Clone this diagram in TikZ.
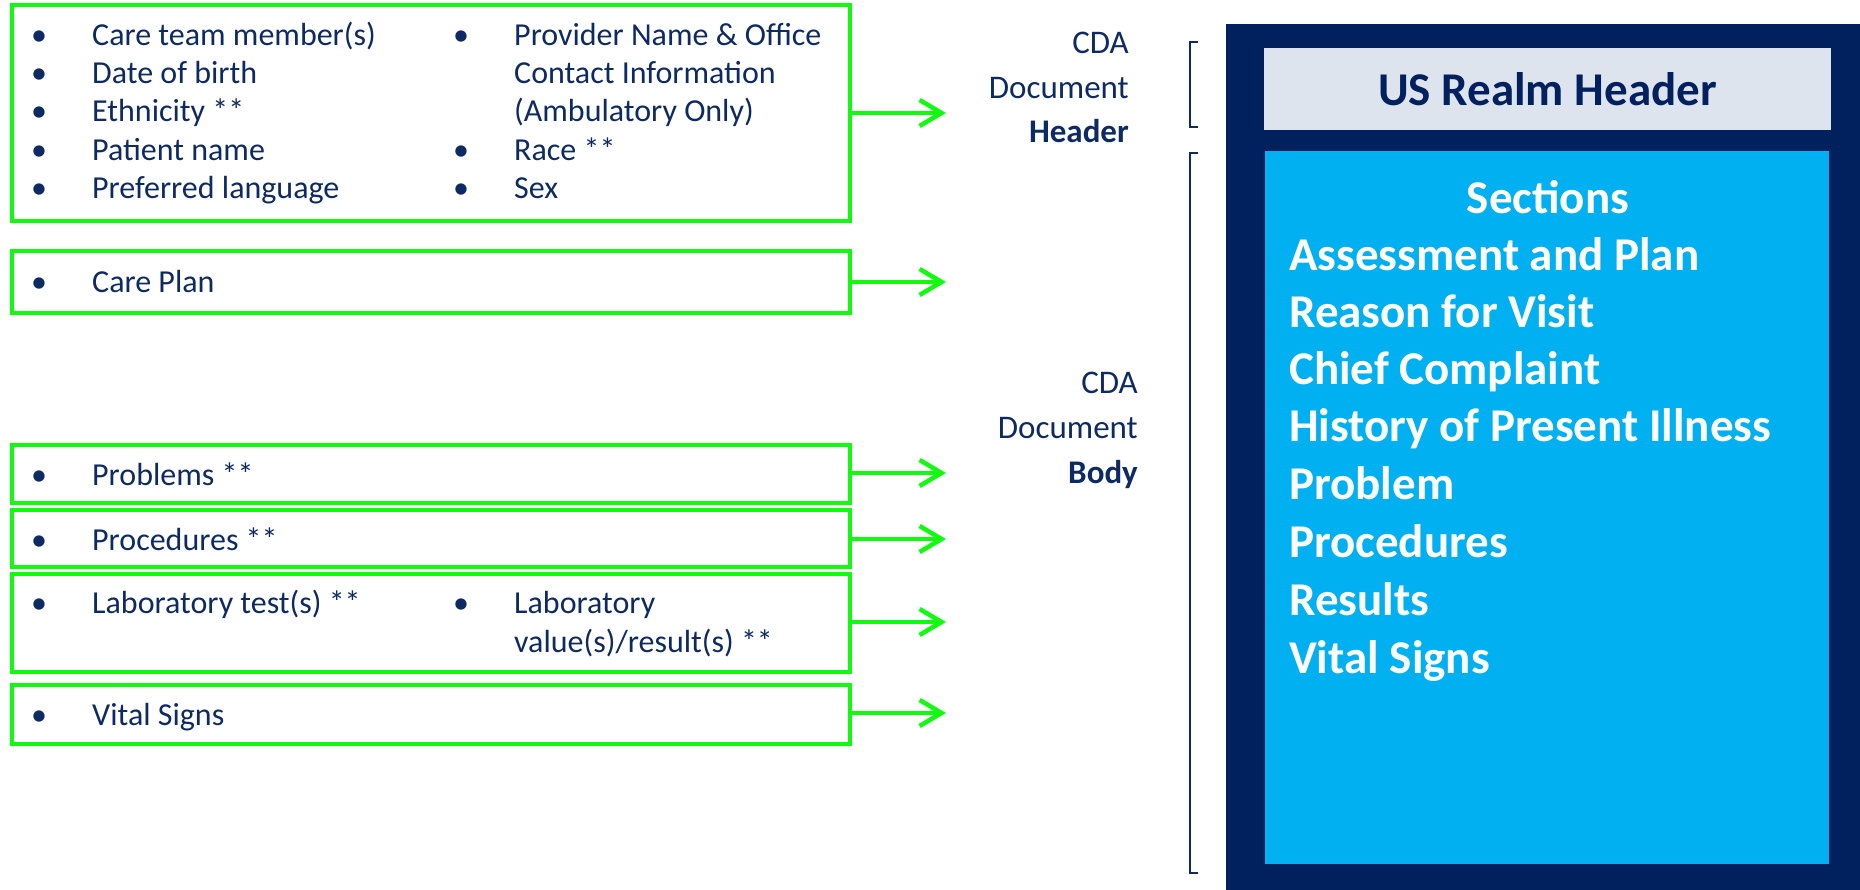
\documentclass[tikz,border=0pt]{standalone}
\usepackage{fontspec}
\setmainfont{Carlito}
\usetikzlibrary{arrows.meta}
\definecolor{navytext}{HTML}{0E2A63}
\definecolor{darknavy}{HTML}{00205E}
\definecolor{skyfill}{HTML}{00B0F0}
\definecolor{headfill}{HTML}{DEE4EE}
\definecolor{brightgreen}{HTML}{12FA12}
\tikzset{
  gbox/.style={draw=brightgreen, line width=4.5pt, inner sep=0pt},
  garrow/.style={draw=brightgreen, line width=4.5pt,
    -{Straight Barb[length=22pt,width=26pt,line width=4.5pt]}},
  item/.style={anchor=base west, inner sep=0pt, text=navytext,
    font=\fontsize{32}{38}\selectfont},
  dot/.style={anchor=base west, inner sep=0pt, text=navytext,
    font=\fontsize{32}{38}\selectfont},
  cdalabel/.style={anchor=base east, inner sep=0pt, text=navytext,
    font=\fontsize{33}{40}\selectfont},
  secline/.style={anchor=base west, inner sep=0pt, text=white,
    font=\fontsize{47}{57}\selectfont\bfseries},
  brace/.style={draw=navytext, line width=2.5pt},
}
\begin{document}
\begin{tikzpicture}[x=1pt,y=-1pt]
\useasboundingbox (0,0) rectangle (1860,890);

% ---- green input boxes ----
\node[gbox, minimum width=838pt, minimum height=216pt] (demo) at (431,113) {};
\node[gbox, minimum width=838pt, minimum height=62pt] (plan) at (431,282) {};
\node[gbox, minimum width=838pt, minimum height=58pt] (prob) at (431,474) {};
\node[gbox, minimum width=838pt, minimum height=57pt] (proc) at (431,538.5) {};
\node[gbox, minimum width=838pt, minimum height=98pt] (lab) at (431,623) {};
\node[gbox, minimum width=838pt, minimum height=59pt] (vital) at (431,714.5) {};

% ---- demographics items ----
\foreach \y/\t [count=\i] in {45.5/Care team member(s), 83.5/Date of birth, 122/Ethnicity **, 160.5/Patient name, 198.5/Preferred language}{
  \node[dot] (dl\i) at (31,\y) {•};
  \node[item] (tl\i) at (92,\y) {\t};
}
\node[dot] (dr1) at (453,45.5) {•};
\node[item] (tr1) at (514,45.5) {Provider Name \& Office};
\node[item] (tr2) at (514,83.5) {Contact Information};
\node[item] (tr3) at (514,122) {(Ambulatory Only)};
\node[dot] (dr4) at (453,160.5) {•};
\node[item] (tr4) at (514,160.5) {Race **};
\node[dot] (dr5) at (453,198.5) {•};
\node[item] (tr5) at (514,198.5) {Sex};

% ---- single-line items ----
\node[dot] (dp) at (31,292.5) {•};   \node[item] (tp) at (92,292.5) {Care Plan};
\node[dot] (dq) at (31,485.5) {•};   \node[item] (tq) at (92,485.5) {Problems **};
\node[dot] (dc) at (31,550.5) {•};   \node[item] (tc) at (92,550.5) {Procedures **};
\node[dot] (dla) at (31,613.5) {•};  \node[item] (tla) at (92,613.5) {Laboratory test(s) **};
\node[dot] (dlb) at (453,613.5) {•}; \node[item] (tlb) at (514,613.5) {Laboratory};
\node[item] (tlc) at (514,652) {value(s)/result(s) **};
\node[dot] (dv) at (31,725.5) {•};   \node[item] (tv) at (92,725.5) {Vital Signs};

% ---- arrow ends ----
\coordinate (e1) at (946,113);
\coordinate (e2) at (946,282);
\coordinate (e3) at (946,473);
\coordinate (e4) at (946,539);
\coordinate (e5) at (946,622);
\coordinate (e6) at (946,713);
\draw[garrow] (demo.east |- e1) -- (e1);
\draw[garrow] (plan.east |- e2) -- (e2);
\draw[garrow] (prob.east |- e3) -- (e3);
\draw[garrow] (proc.east |- e4) -- (e4);
\draw[garrow] (lab.east |- e5) -- (e5);
\draw[garrow] (vital.east |- e6) -- (e6);

% ---- CDA labels ----
\node[cdalabel] (h1) at (1129,53.5) {CDA};
\node[cdalabel] (h2) at (1129,98.5) {Document};
\node[cdalabel, font=\fontsize{33}{40}\selectfont\bfseries] (h3) at (1129,142.5) {Header};
\node[cdalabel] (b1) at (1138,393) {CDA};
\node[cdalabel] (b2) at (1138,438) {Document};
\node[cdalabel, font=\fontsize{33}{40}\selectfont\bfseries] (b3) at (1138,483) {Body};

% ---- brackets ----
\draw[brace] (1198,42) -- (1190,42) -- (1190,127) -- (1198,127);
\draw[brace] (1198,153) -- (1190,153) -- (1190,873) -- (1198,873);

% ---- document structure ----
\fill[darknavy] (1226,24) rectangle (1860,890);
\node[fill=headfill, minimum width=567pt, minimum height=82pt, inner sep=0pt,
      text=darknavy, font=\fontsize{47}{57}\selectfont\bfseries] (hdr) at (1547.5,89) {US Realm Header};
\node[fill=skyfill, minimum width=564pt, minimum height=713pt, inner sep=0pt] (body) at (1547,507.5) {};
\node[anchor=base, inner sep=0pt, text=white, font=\fontsize{47}{57}\selectfont\bfseries] (sec) at (1548,213.5) {Sections};
\foreach \y/\t [count=\i] in {270.5/Assessment and Plan, 327.5/Reason for Visit, 384.5/Chief Complaint,
  441.5/History of Present Illness, 499.5/Problem, 557.5/Procedures, 615.5/Results, 673.5/Vital Signs}{
  \node[secline] (s\i) at (1289,\y) {\t};
}
\end{tikzpicture}
\end{document}
